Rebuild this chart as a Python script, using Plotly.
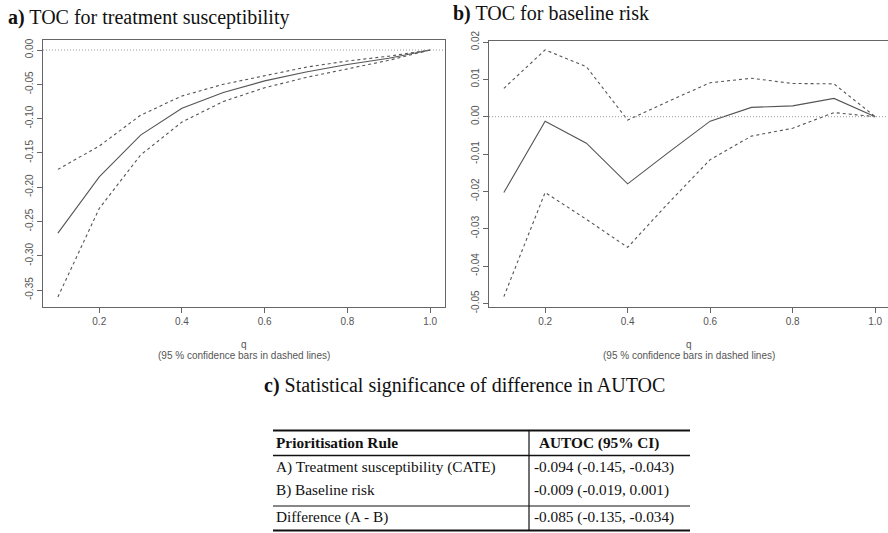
import plotly.graph_objects as go

W, H = 888, 533

q = [0.1, 0.2, 0.3, 0.4, 0.5, 0.6, 0.7, 0.8, 0.9, 1.0]

# Panel a: TOC for treatment susceptibility
toc_a = [-0.267, -0.185, -0.124, -0.085, -0.062, -0.045, -0.032, -0.021, -0.012, 0.0]
upper_a = [-0.174, -0.140, -0.095, -0.067, -0.050, -0.037, -0.025, -0.016, -0.009, 0.0]
lower_a = [-0.360, -0.231, -0.153, -0.105, -0.075, -0.055, -0.040, -0.027, -0.015, 0.0]

# Panel b: TOC for baseline risk
toc_b = [-0.0203, -0.0012, -0.0071, -0.0180, -0.0095, -0.0012, 0.0025, 0.0029, 0.0049, 0.0]
upper_b = [0.0076, 0.0179, 0.0134, -0.0009, 0.0042, 0.0091, 0.0103, 0.0089, 0.0088, 0.0]
lower_b = [-0.0482, -0.0203, -0.0275, -0.0350, -0.0230, -0.0115, -0.0052, -0.0031, 0.0011, 0.0]

xticks = [0.2, 0.4, 0.6, 0.8, 1.0]
xtick_labels = ["0.2", "0.4", "0.6", "0.8", "1.0"]
yticks_a = [0.0, -0.05, -0.10, -0.15, -0.20, -0.25, -0.30, -0.35]
ytick_labels_a = ["0.00", "-0.05", "-0.10", "-0.15", "-0.20", "-0.25", "-0.30", "-0.35"]
yticks_b = [0.02, 0.01, 0.0, -0.01, -0.02, -0.03, -0.04, -0.05]
ytick_labels_b = ["0.02", "0.01", "0.00", "-0.01", "-0.02", "-0.03", "-0.04", "-0.05"]

title_a = "<b>a)</b> TOC for treatment susceptibility"
title_b = "<b>b)</b> TOC for baseline risk"
title_c = "<b>c)</b> Statistical significance of difference in AUTOC"
xlab = "q"
xsub = "(95 % confidence bars in dashed lines)"

table_header = ["Prioritisation Rule", "AUTOC (95% CI)"]
table_rules = ["A) Treatment susceptibility (CATE)", "B) Baseline risk", "Difference (A - B)"]
table_autoc = ["-0.094 (-0.145, -0.043)", "-0.009 (-0.019, 0.001)", "-0.085 (-0.135, -0.034)"]

LINE = "#555555"
AXC = "#666666"
TICKF = dict(family="Liberation Sans, Arial", size=10, color="#555555")
SERIF = "Liberation Serif, Times New Roman"


def px(x):
    return x / W


def py(y):
    return 1 - y / H


fig = go.Figure()

for xa, ya, mid, up, lo in [("x", "y", toc_a, upper_a, lower_a), ("x2", "y2", toc_b, upper_b, lower_b)]:
    fig.add_trace(go.Scatter(x=q, y=up, mode="lines", xaxis=xa, yaxis=ya,
                             line=dict(color=LINE, width=1.1, dash="3px,3px"), showlegend=False))
    fig.add_trace(go.Scatter(x=q, y=lo, mode="lines", xaxis=xa, yaxis=ya,
                             line=dict(color=LINE, width=1.1, dash="3px,3px"), showlegend=False))
    fig.add_trace(go.Scatter(x=q, y=mid, mode="lines", xaxis=xa, yaxis=ya,
                             line=dict(color=LINE, width=1.1), showlegend=False))

axis_common = dict(showgrid=False, zeroline=False, showline=True, mirror=True,
                   linecolor=AXC, linewidth=1.2, ticks="outside", ticklen=5,
                   tickcolor=AXC, tickfont=TICKF, automargin=False)

fig.update_layout(
    width=W, height=H, margin=dict(l=0, r=0, t=0, b=0),
    paper_bgcolor="white", plot_bgcolor="white",
    xaxis=dict(domain=[px(43), px(445)], range=[0.064, 1.036], anchor="y",
               tickvals=xticks, ticktext=xtick_labels, **axis_common),
    yaxis=dict(domain=[py(307), py(40)], range=[-0.3746, 0.0146], anchor="x",
               tickvals=yticks_a, ticktext=ytick_labels_a, tickangle=-90, **axis_common),
    xaxis2=dict(domain=[px(489), 1.0], range=[0.064, 1.031], anchor="y2",
                tickvals=xticks, ticktext=xtick_labels, **axis_common),
    yaxis2=dict(domain=[py(306.7), py(40.7)], range=[-0.0509, 0.02036], anchor="x2",
                tickvals=yticks_b, ticktext=ytick_labels_b, tickangle=-90, **axis_common),
)

# zero reference lines (dotted)
for xr, yr in [("x domain", "y"), ("x2 domain", "y2")]:
    fig.add_shape(type="line", xref=xr, yref=yr, x0=0, x1=1, y0=0, y1=0,
                  line=dict(color="#999999", width=1, dash="1px,2px"))

ann = []
ann.append(dict(text=title_a, x=px(6), y=py(17), xanchor="left", yanchor="middle",
                font=dict(family=SERIF, size=20, color="#111")))
ann.append(dict(text=title_b, x=px(451), y=py(13), xanchor="left", yanchor="middle",
                font=dict(family=SERIF, size=20, color="#111")))
ann.append(dict(text=title_c, x=px(262), y=py(385), xanchor="left", yanchor="middle",
                font=dict(family=SERIF, size=20, color="#111")))
for cx in (244, 689):
    ann.append(dict(text=xlab, x=px(cx), y=py(344), xanchor="center", yanchor="middle",
                    font=TICKF))
    ann.append(dict(text=xsub, x=px(cx), y=py(355), xanchor="center", yanchor="middle",
                    font=TICKF))

# table
TF = dict(family=SERIF, size=15.3, color="#111")
row_y = [442.7, 466.7, 490, 516.7]
ann.append(dict(text="<b>" + table_header[0] + "</b>", x=px(274), y=py(row_y[0]),
                xanchor="left", yanchor="middle", font=TF))
ann.append(dict(text="<b>" + table_header[1] + "</b>", x=px(537), y=py(row_y[0]),
                xanchor="left", yanchor="middle", font=TF))
for i in range(3):
    ann.append(dict(text=table_rules[i], x=px(274), y=py(row_y[i + 1]),
                    xanchor="left", yanchor="middle", font=TF))
    ann.append(dict(text=table_autoc[i], x=px(532), y=py(row_y[i + 1]),
                    xanchor="left", yanchor="middle", font=TF))
for a in ann:
    a.update(xref="paper", yref="paper", showarrow=False)
fig.update_layout(annotations=ann)

rules = [(430.5, 2.2), (455.5, 1.4), (506, 1.0), (530.5, 2.2)]
for yy, wdt in rules:
    fig.add_shape(type="line", xref="paper", yref="paper", x0=px(273), x1=px(690),
                  y0=py(yy), y1=py(yy), line=dict(color="#111", width=wdt))
fig.add_shape(type="line", xref="paper", yref="paper", x0=px(529), x1=px(529),
              y0=py(430.5), y1=py(530.5), line=dict(color="#111", width=1.2))

fig.write_html("out.html", config={"displayModeBar": False},
               post_script="document.body.style.margin='0';document.body.style.overflow='hidden';")
